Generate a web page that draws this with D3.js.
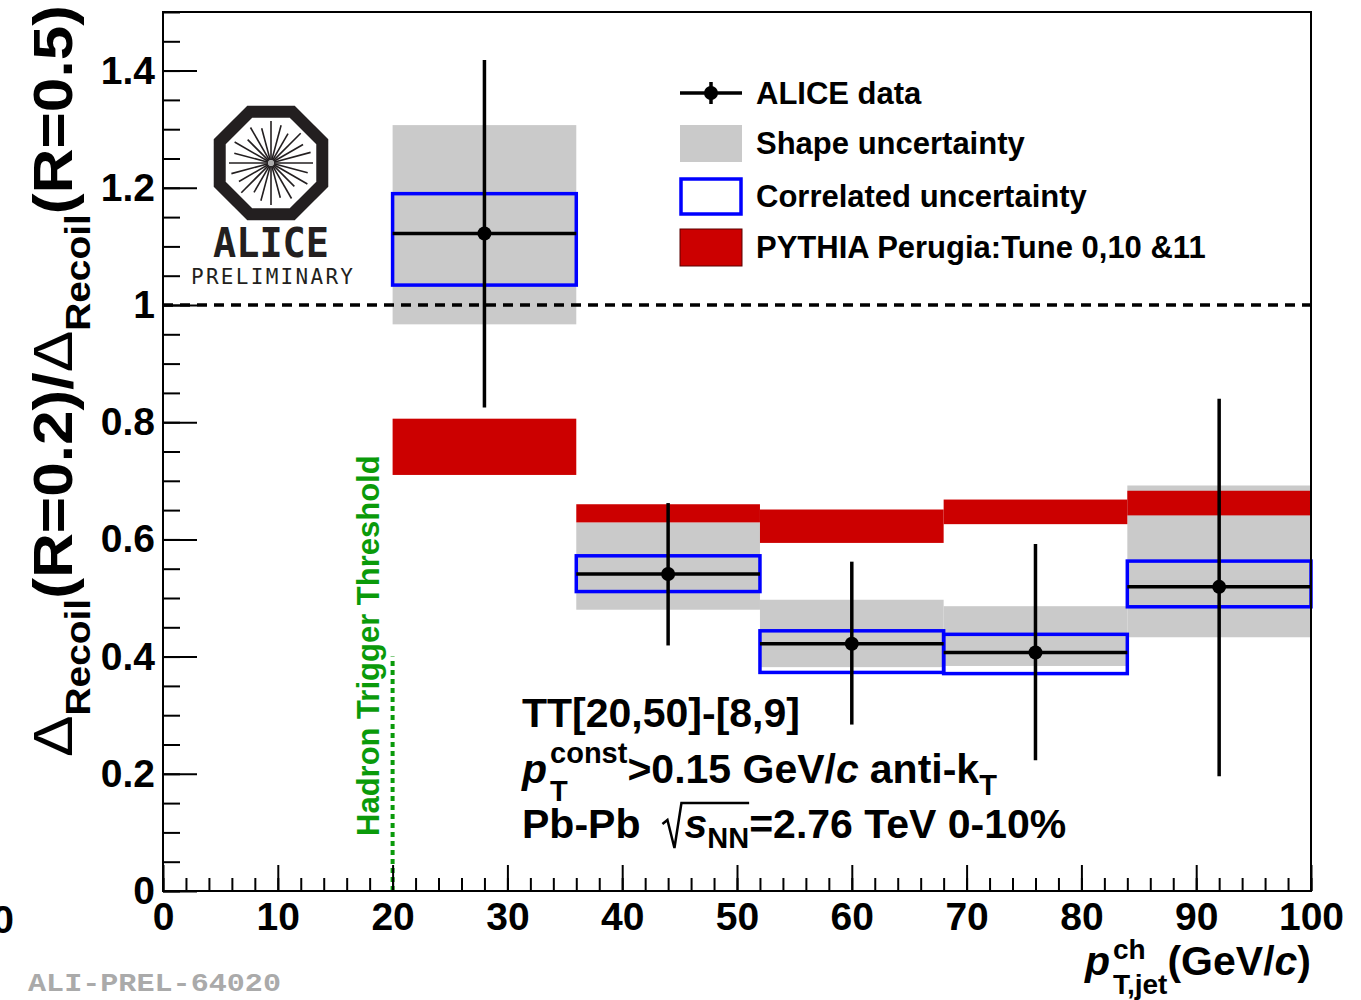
<!DOCTYPE html>
<html>
<head>
<meta charset="utf-8">
<script src="https://cdn.jsdelivr.net/npm/d3@7"></script>
<style>
body { margin: 0; background: #fff; }
svg { display: block; }
text { font-family: "Liberation Sans", Arial, Helvetica, sans-serif; font-weight: bold; }
</style>
</head>
<body>
<div id="chart"></div>
<script>
// pT,jet bins (GeV/c)
var binLo = [20, 36, 52, 68, 84];
var binHi = [36, 52, 68, 84, 100];
var binCenter = [28, 44, 60, 76, 92];

// ALICE data: ratio and statistical error ends
var ratio  = [1.122, 0.541, 0.422, 0.407, 0.519];
var statHi = [1.418, 0.662, 0.562, 0.592, 0.840];
var statLo = [0.825, 0.419, 0.284, 0.223, 0.196];

// shape uncertainty (grey)
var shapeHi = [1.307, 0.629, 0.497, 0.486, 0.692];
var shapeLo = [0.967, 0.480, 0.382, 0.384, 0.433];

// correlated uncertainty (blue)
var corrHi = [1.190, 0.572, 0.444, 0.438, 0.563];
var corrLo = [1.034, 0.511, 0.373, 0.371, 0.485];

// PYTHIA Perugia band (red)
var pythiaHi = [0.806, 0.660, 0.651, 0.668, 0.683];
var pythiaLo = [0.710, 0.629, 0.594, 0.626, 0.641];

// axis ticks
var yMajor = [0, 0.2, 0.4, 0.6, 0.8, 1, 1.2, 1.4];
var yMinor = d3.range(0, 1.501, 0.05);
var xMajor = [0, 10, 20, 30, 40, 50, 60, 70, 80, 90, 100];
var xMinor = d3.range(0, 100.1, 2);

var triggerPt = 20, triggerTop = 0.40;

var legendLabels = ["ALICE data", "Shape uncertainty", "Correlated uncertainty", "PYTHIA Perugia:Tune 0,10 &11"];

var width = 1361, height = 1000;
var grey = "#cacaca", red = "#cc0000", blue = "#0000ff", green = "#0a9a0a";

var svg = d3.select("#chart").append("svg")
    .attr("width", width)
    .attr("height", height);

var x = d3.scaleLinear().domain([0, 100]).range([163, 1311]);
var y = d3.scaleLinear().domain([0, 1.5]).range([891, 12]);

var bins = d3.range(binLo.length);

// text helper: lays pieces one after another, returns end x
function rich(g, x0, y0, segs) {
  var cx = x0;
  segs.forEach(function(s) {
    if (s.gap) { cx += s.gap; return; }
    var parts = s.stack || [s];
    var w = 0;
    parts.forEach(function(p) {
      var t = g.append("text")
          .attr("x", cx)
          .attr("y", y0 + (p.dy || 0))
          .attr("font-size", p.size)
          .attr("fill", p.fill || "#000")
          .text(p.t);
      if (p.italic) t.attr("font-style", "italic");
      if (p.normal) t.style("font-weight", "normal");
      w = Math.max(w, t.node().getComputedTextLength());
    });
    cx += w;
  });
  return cx;
}

// white box behind logo
svg.append("rect").attr("x", 190).attr("y", 100).attr("width", 170).attr("height", 192).attr("fill", "#fff");

// shape uncertainty boxes
svg.selectAll(".shape").data(bins).enter().append("rect")
    .attr("class", "shape")
    .attr("x", function(i) { return x(binLo[i]); })
    .attr("width", function(i) { return x(binHi[i]) - x(binLo[i]); })
    .attr("y", function(i) { return y(shapeHi[i]); })
    .attr("height", function(i) { return y(shapeLo[i]) - y(shapeHi[i]); })
    .attr("fill", grey);

// pythia band
svg.selectAll(".pythia").data(bins).enter().append("rect")
    .attr("class", "pythia")
    .attr("x", function(i) { return x(binLo[i]); })
    .attr("width", function(i) { return x(binHi[i]) - x(binLo[i]); })
    .attr("y", function(i) { return y(pythiaHi[i]); })
    .attr("height", function(i) { return y(pythiaLo[i]) - y(pythiaHi[i]); })
    .attr("fill", red);

// correlated uncertainty boxes
svg.selectAll(".corr").data(bins).enter().append("rect")
    .attr("class", "corr")
    .attr("x", function(i) { return x(binLo[i]); })
    .attr("width", function(i) { return x(binHi[i]) - x(binLo[i]); })
    .attr("y", function(i) { return y(corrHi[i]); })
    .attr("height", function(i) { return y(corrLo[i]) - y(corrHi[i]); })
    .attr("fill", "none")
    .attr("stroke", blue)
    .attr("stroke-width", 3.5);

// unity line
svg.append("line")
    .attr("x1", x(0)).attr("x2", x(100))
    .attr("y1", y(1)).attr("y2", y(1))
    .attr("stroke", "#000").attr("stroke-width", 3.5)
    .attr("stroke-dasharray", "10,7");

// data points
var pts = svg.selectAll(".pt").data(bins).enter().append("g").attr("class", "pt");
pts.append("line")
    .attr("x1", function(i) { return x(binCenter[i]); })
    .attr("x2", function(i) { return x(binCenter[i]); })
    .attr("y1", function(i) { return y(statHi[i]); })
    .attr("y2", function(i) { return y(statLo[i]); })
    .attr("stroke", "#000").attr("stroke-width", 3.5);
pts.append("line")
    .attr("x1", function(i) { return x(binLo[i]); })
    .attr("x2", function(i) { return x(binHi[i]); })
    .attr("y1", function(i) { return y(ratio[i]); })
    .attr("y2", function(i) { return y(ratio[i]); })
    .attr("stroke", "#000").attr("stroke-width", 3.5);
pts.append("circle")
    .attr("cx", function(i) { return x(binCenter[i]); })
    .attr("cy", function(i) { return y(ratio[i]); })
    .attr("r", 7)
    .attr("fill", "#000");

// trigger threshold
svg.append("line")
    .attr("x1", x(triggerPt)).attr("x2", x(triggerPt))
    .attr("y1", y(0)).attr("y2", y(triggerTop))
    .attr("stroke", green).attr("stroke-width", 4)
    .attr("stroke-dasharray", "5,4");
svg.append("text")
    .attr("transform", "translate(379,836) rotate(-90)")
    .attr("font-size", 31)
    .attr("fill", green)
    .text("Hadron Trigger Threshold");

// frame
svg.append("rect")
    .attr("x", x(0)).attr("y", y(1.5))
    .attr("width", x(100) - x(0)).attr("height", y(0) - y(1.5))
    .attr("fill", "none").attr("stroke", "#000").attr("stroke-width", 2);

// y ticks
function styleTicks(g) {
  g.select(".domain").remove();
  g.selectAll(".tick line").attr("stroke", "#000").attr("stroke-width", 2);
}
svg.append("g").attr("transform", "translate(" + x(0) + ",0)")
    .call(d3.axisRight(y).tickValues(yMinor).tickSize(17).tickFormat(""))
    .call(styleTicks);
svg.append("g").attr("transform", "translate(" + x(0) + ",0)")
    .call(d3.axisRight(y).tickValues(yMajor).tickSize(34).tickFormat(""))
    .call(styleTicks);
var yLab = svg.append("g").attr("transform", "translate(" + x(0) + ",0)")
    .call(d3.axisLeft(y).tickValues(yMajor).tickSize(0).tickPadding(8).tickFormat(d3.format("~g")));
yLab.select(".domain").remove();
yLab.attr("font-family", null).attr("font-size", null);
yLab.selectAll("text").attr("font-size", 39).attr("fill", "#000");

// x ticks
svg.append("g").attr("transform", "translate(0," + y(0) + ")")
    .call(d3.axisTop(x).tickValues(xMinor).tickSize(13).tickFormat(""))
    .call(styleTicks);
svg.append("g").attr("transform", "translate(0," + y(0) + ")")
    .call(d3.axisTop(x).tickValues(xMajor).tickSize(26).tickFormat(""))
    .call(styleTicks);
var xLab = svg.append("g").attr("transform", "translate(0," + y(0) + ")")
    .call(d3.axisBottom(x).tickValues(xMajor).tickSize(0).tickPadding(11).tickFormat(d3.format("d")));
xLab.select(".domain").remove();
xLab.attr("font-family", null).attr("font-size", null);
xLab.selectAll("text").attr("font-size", 39).attr("fill", "#000");

// stray zero at left edge (cut in the original too)
svg.append("text").attr("x", 3).attr("y", 933).attr("text-anchor", "middle")
    .attr("font-size", 39).text("0");

// y title
var yt = svg.append("g").attr("transform", "translate(72,757) rotate(-90)");
var ytIn = yt.append("g");
var ytEnd = rich(ytIn, 0, 0, [
  {t: "\u0394", size: 56, normal: true},
  {t: "Recoil", size: 35, dy: 18},
  {t: "(R=0.2)/", size: 56},
  {t: "\u0394", size: 56, normal: true},
  {t: "Recoil", size: 35, dy: 18},
  {t: "(R=0.5)", size: 56}
]);
ytIn.attr("transform", "scale(" + (752 / ytEnd) + ",1)");

// x title, right aligned to frame
var xt = svg.append("g");
var xtEnd = rich(xt, 0, 975, [
  {t: "p", size: 41, italic: true},
  {gap: 3},
  {stack: [{t: "ch", size: 28, dy: -16}, {t: "T,jet", size: 28, dy: 19}]},
  {t: "(GeV/", size: 41},
  {t: "c", size: 41, italic: true},
  {t: ")", size: 41}
]);
xt.attr("transform", "translate(" + (1311 - xtEnd) + ",0)");

// annotation
var ann = svg.append("g");
rich(ann, 522, 727, [{t: "TT[20,50]-[8,9]", size: 41}]);
rich(ann, 522, 783, [
  {t: "p", size: 41, italic: true},
  {gap: 3},
  {stack: [{t: "const", size: 29, dy: -20}, {t: "T", size: 29, dy: 18}]},
  {t: ">0.15 GeV/", size: 41},
  {t: "c", size: 41, italic: true},
  {gap: 11},
  {t: "anti-k", size: 41},
  {t: "T", size: 29, dy: 12}
]);
var l3 = 838;
var px = rich(ann, 522, l3, [{t: "Pb-Pb", size: 41}]);
var r0 = px + 22;
var sEnd = rich(ann, r0 + 22, l3, [
  {t: "s", size: 41, italic: true},
  {t: "NN", size: 29, dy: 10}
]);
rich(ann, sEnd, l3, [{t: "=2.76 TeV 0-10%", size: 41}]);
ann.append("path")
    .attr("d", "M" + r0 + "," + (l3 - 14) + " L" + (r0 + 5) + "," + (l3 - 18) +
               " L" + (r0 + 12) + "," + (l3 + 10) + " L" + (r0 + 19) + "," + (l3 - 35) +
               " L" + sEnd + "," + (l3 - 35))
    .attr("fill", "none").attr("stroke", "#000").attr("stroke-width", 2.5);

// legend
var lg = svg.append("g");
var lx = 680, lw = 62, rows = [93, 143, 196, 247];
lg.append("line").attr("x1", lx).attr("x2", lx + lw).attr("y1", rows[0]).attr("y2", rows[0])
    .attr("stroke", "#000").attr("stroke-width", 3.5);
lg.append("line").attr("x1", lx + lw / 2).attr("x2", lx + lw / 2).attr("y1", rows[0] - 11).attr("y2", rows[0] + 11)
    .attr("stroke", "#000").attr("stroke-width", 3.5);
lg.append("circle").attr("cx", lx + lw / 2).attr("cy", rows[0]).attr("r", 7).attr("fill", "#000");
lg.append("rect").attr("x", lx).attr("y", rows[1] - 18).attr("width", lw).attr("height", 37).attr("fill", grey);
lg.append("rect").attr("x", lx + 1).attr("y", rows[2] - 17).attr("width", lw - 2).attr("height", 35)
    .attr("fill", "none").attr("stroke", blue).attr("stroke-width", 3.5);
lg.append("rect").attr("x", lx).attr("y", rows[3] - 18).attr("width", lw).attr("height", 37)
    .attr("fill", red).attr("stroke", "#5a0000").attr("stroke-width", 1);
lg.selectAll(".lt").data(legendLabels).enter().append("text")
    .attr("x", 756)
    .attr("y", function(d, i) { return rows[i] + 11; })
    .attr("font-size", 31)
    .text(function(d) { return d; });

// ALICE preliminary logo
var logo = svg.append("g").attr("transform", "translate(271,163)");
var oct = d3.range(8).map(function(k) {
  var a = (22.5 + 45 * k) * Math.PI / 180;
  return [55.5 * Math.cos(a), 55.5 * Math.sin(a)];
});
logo.append("path")
    .attr("d", "M" + oct.map(function(p) { return p.join(","); }).join("L") + "Z")
    .attr("fill", "#fff").attr("stroke", "#231f20").attr("stroke-width", 12)
    .attr("stroke-linejoin", "miter");
var spokeLen = [42, 38, 42, 33, 41, 36, 42, 39, 34, 42, 37, 41, 42, 38, 42, 33, 41, 36, 42, 39, 34, 42, 37, 41];
logo.selectAll(".spoke").data(spokeLen).enter().append("line")
    .attr("x1", function(d, i) { return 3 * Math.cos(i * 15 * Math.PI / 180); })
    .attr("y1", function(d, i) { return 3 * Math.sin(i * 15 * Math.PI / 180); })
    .attr("x2", function(d, i) { return d * Math.cos(i * 15 * Math.PI / 180); })
    .attr("y2", function(d, i) { return d * Math.sin(i * 15 * Math.PI / 180); })
    .attr("stroke", "#231f20").attr("stroke-width", 1.6);
logo.append("circle").attr("r", 3).attr("fill", "#aaa");
svg.append("text").attr("x", 271).attr("y", 257).attr("text-anchor", "middle")
    .style("font-family", "'DejaVu Sans Mono', monospace").style("font-weight", "bold")
    .attr("font-size", 40)
    .attr("fill", "#231f20").attr("textLength", 116).attr("lengthAdjust", "spacingAndGlyphs")
    .text("ALICE");
svg.append("text").attr("x", 272).attr("y", 284).attr("text-anchor", "middle")
    .style("font-family", "'DejaVu Sans Mono', monospace").style("font-weight", "normal")
    .attr("font-size", 21)
    .attr("fill", "#231f20").attr("textLength", 162).attr("lengthAdjust", "spacing")
    .text("PRELIMINARY");

// figure id
svg.append("text").attr("x", 28).attr("y", 991)
    .style("font-family", "'Liberation Mono', monospace").style("font-weight", "bold")
    .attr("font-size", 25)
    .attr("fill", "#aaaaaa").attr("textLength", 253).attr("lengthAdjust", "spacingAndGlyphs")
    .text("ALI-PREL-64020");
</script>
</body>
</html>
